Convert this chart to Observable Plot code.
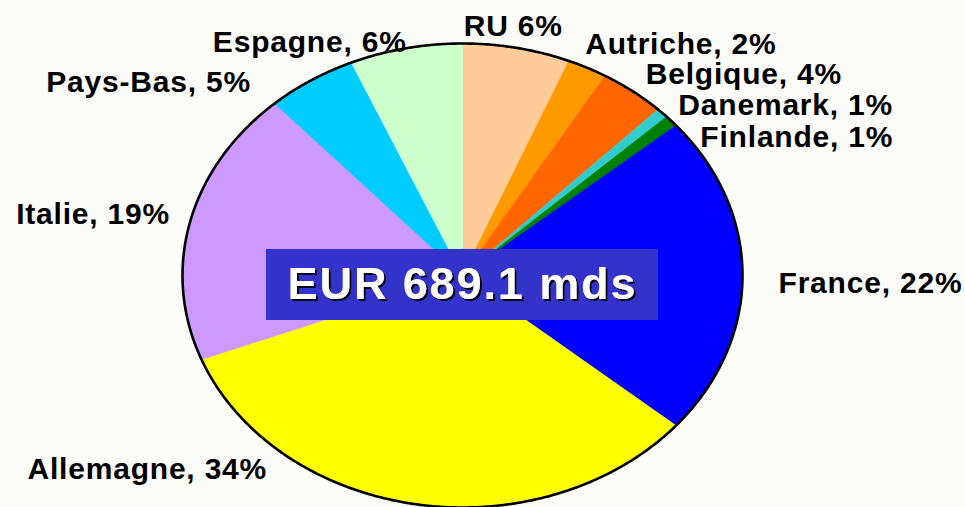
<!DOCTYPE html>
<html><head><meta charset="utf-8">
<script src="https://cdn.jsdelivr.net/npm/d3@7"></script>
<script src="https://cdn.jsdelivr.net/npm/@observablehq/plot@0.6"></script>
<style>
html,body{margin:0;padding:0;background:#fbfbf8;}
#chart{width:965px;height:507px;overflow:hidden;}
</style></head><body><div id="chart"></div>
<script>
// ---- data ----
const countries = ["RU","Autriche","Belgique","Danemark","Finlande","France","Allemagne","Italie","Pays-Bas","Espagne"];
const shares = [6.2, 2.3, 3.8, 0.7, 0.8, 22.4, 32.9, 19.2, 5.2, 6.5];
const labels = ["RU 6%","Autriche, 2%","Belgique, 4%","Danemark, 1%","Finlande, 1%","France, 22%","Allemagne, 34%","Italie, 19%","Pays-Bas, 5%","Espagne, 6%"];
const totalLabel = ["EUR 689.1 mds"];

// ---- styles ----
const colors = ["#ffcc99","#ff9900","#ff6600","#33cccc","#008000","#0000ff","#ffff00","#cc99ff","#00ccff","#ccffcc"];
const labelLayout = {
  "RU":        {anchor:"start", dx:-53,  dy:-21},
  "Autriche":  {anchor:"start", dx:-2,   dy:-23},
  "Belgique":  {anchor:"start", dx:13,   dy:-17},
  "Danemark":  {anchor:"start", dx:16,   dy:-8},
  "Finlande":  {anchor:"start", dx:29,   dy:16},
  "France":    {anchor:"start", dx:36,   dy:8},
  "Allemagne": {anchor:"end",   dx:-149, dy:-35},
  "Italie":    {anchor:"end",   dx:-20,  dy:-8},
  "Pays-Bas":  {anchor:"end",   dx:-60,  dy:2},
  "Espagne":   {anchor:"end",   dx:1,    dy:-6}
};
const FONT = "'Liberation Sans', Arial, Helvetica, sans-serif";
const BOX = {w:392, h:71, dy:9.5, fill:"#3333cc"};

// ---- geometry from data via d3.pie ----
const rows = countries.map((c,i)=>({country:c, share:shares[i], label:labels[i]}));
const arcs = d3.pie().sort(null).value(d=>d.share)(rows);
const slicePts = arcs.flatMap(a=>{
  const c = a.data.country;
  const n = Math.max(2, Math.ceil((a.endAngle-a.startAngle)/(Math.PI/360)));
  const pts = [{country:c, x:0, y:0}];
  for (let k=0;k<=n;k++){
    const t = a.startAngle + (a.endAngle-a.startAngle)*k/n;
    pts.push({country:c, x:Math.sin(t), y:Math.cos(t)});
  }
  pts.push({country:c, x:0, y:0});
  return pts;
});
const outline = d3.range(0, 721).map(k=>{const t=k/720*2*Math.PI; return {x:Math.sin(t), y:Math.cos(t)};});
const labelData = arcs.map(a=>{
  const m=(a.startAngle+a.endAngle)/2;
  return {country:a.data.country, label:a.data.label, x:Math.sin(m), y:Math.cos(m)};
});

function boxMark(index, scales, values, dimensions, context){
  const cx = scales.x(0), cy = scales.y(0);
  const g = d3.create("svg:g");
  const f = g.append("defs").append("filter").attr("id","txtshadow")
    .attr("x","-10%").attr("y","-30%").attr("width","120%").attr("height","160%");
  f.append("feDropShadow").attr("dx",2).attr("dy",2).attr("stdDeviation",0.6)
    .attr("flood-color","#000").attr("flood-opacity",0.9);
  g.append("rect")
    .attr("x", cx-BOX.w/2).attr("y", cy+BOX.dy-BOX.h/2)
    .attr("width", BOX.w).attr("height", BOX.h)
    .attr("fill", BOX.fill);
  return g.node();
}

const labelMarks = labelData.map(d=>{
  const L = labelLayout[d.country];
  return Plot.text([d], {x:"x", y:"y", text:"label", textAnchor:L.anchor, dx:L.dx, dy:L.dy,
    fontSize:30, fontWeight:"bold", fill:"#000", fontFamily:FONT});
});

const chart = Plot.plot({
  width:965, height:507, margin:0,
  x:{domain:[-1,1], range:[182,742], axis:null},
  y:{domain:[-1,1], range:[507,43], axis:null},
  color:{domain:countries, range:colors},
  style:{background:"#fbfbf8", fontFamily:FONT, overflow:"visible"},
  marks:[
    Plot.line(slicePts, {x:"x", y:"y", z:"country", fill:"country", stroke:"country", strokeWidth:0.6, curve:"linear"}),
    Plot.line(outline, {x:"x", y:"y", stroke:"#000", strokeWidth:2.6, curve:"linear"}),
    boxMark,
    Plot.text(totalLabel, {x:()=>0, y:()=>0, text:d=>d, dx:0, dy:9, fontSize:45, fontWeight:"bold", fill:"#fff", fontFamily:FONT}),
    ...labelMarks
  ]
});
document.getElementById("chart").appendChild(chart);
d3.select(chart).selectAll("text").each(function(){
  let el=this, fs=null;
  while(el && !fs){ fs = el.getAttribute && el.getAttribute("font-size"); el=el.parentNode; }
  if (String(fs)==="45") { this.setAttribute("letter-spacing","1.9"); this.setAttribute("filter","url(#txtshadow)"); }
  else if (String(fs)==="30") this.setAttribute("letter-spacing","0.8");
});
</script></body></html>
